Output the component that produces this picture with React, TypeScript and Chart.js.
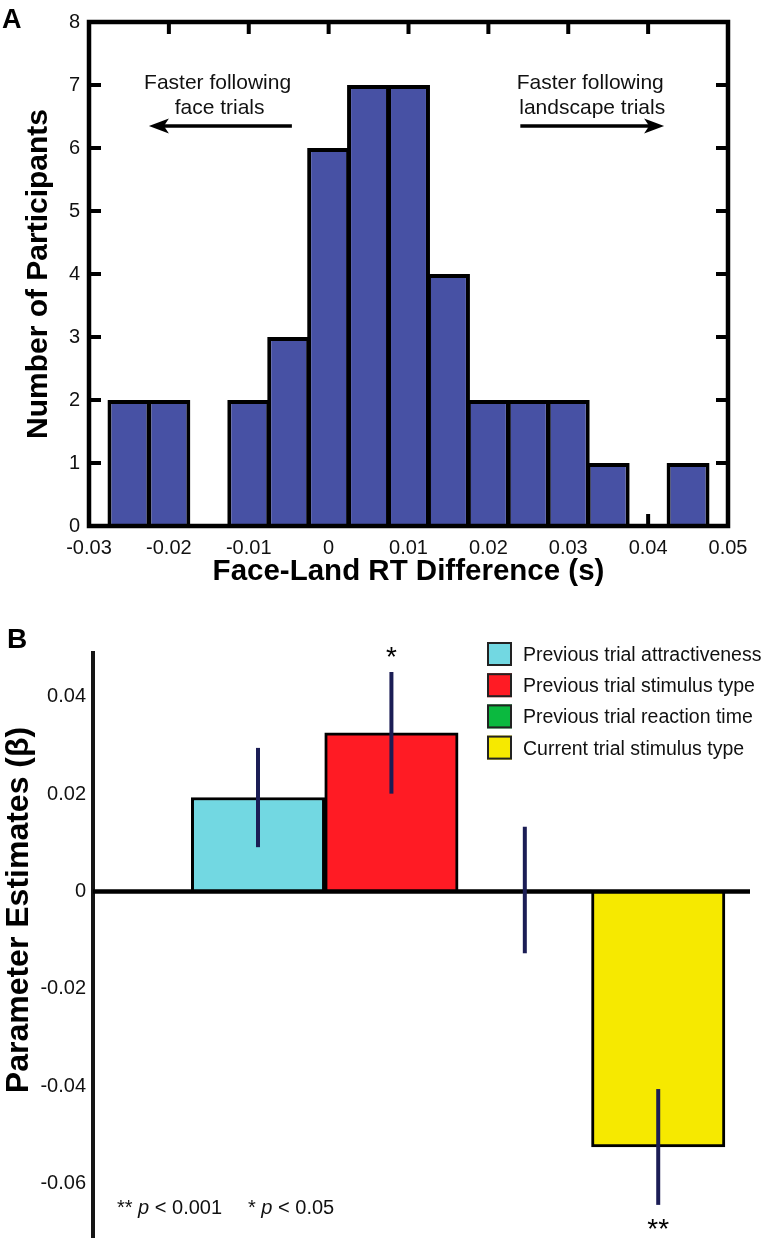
import React, { useEffect, useRef } from 'react';
import { Chart, registerables } from 'chart.js';

Chart.register(...registerables);

const FONT = '"Liberation Sans", Arial, Helvetica, sans-serif';

// ---------- Panel A: histogram of RT differences ----------
const binCenters = [-0.025, -0.02, -0.015, -0.01, -0.005, 0, 0.005, 0.01, 0.015, 0.02, 0.025, 0.03, 0.035, 0.04, 0.045];
const participantCounts = [2, 2, 0, 2, 3, 6, 7, 7, 4, 2, 2, 2, 1, 0, 1];
const xTickValuesA = [-0.03, -0.02, -0.01, 0, 0.01, 0.02, 0.03, 0.04, 0.05];
const xTickLabelsA = ['-0.03', '-0.02', '-0.01', '0', '0.01', '0.02', '0.03', '0.04', '0.05'];
const yTickValuesA = [0, 1, 2, 3, 4, 5, 6, 7, 8];
const yTickLabelsA = ['0', '1', '2', '3', '4', '5', '6', '7', '8'];
const noteLeftA = ['Faster following', 'face trials'];
const noteRightA = ['Faster following', 'landscape trials'];

// ---------- Panel B: parameter estimates ----------
const predictors = [
  'Previous trial attractiveness',
  'Previous trial stimulus type',
  'Previous trial reaction time',
  'Current trial stimulus type',
];
const estimates = [0.0193, 0.0326, 0.0003, -0.0525];
const standardErrors = [0.0102, 0.0125, 0.013, 0.0119];
const significance = ['', '*', '', '**'];
const predictorColors = ['#72D8E2', '#FF1B24', '#0BB93F', '#F6E900'];
const yTickValuesB = [-0.06, -0.04, -0.02, 0, 0.02, 0.04];
const yTickLabelsB = ['-0.06', '-0.04', '-0.02', '0', '0.02', '0.04'];
const footnoteParts = [
  ['** ', 'p', ' < 0.001'],
  ['* ', 'p', ' < 0.05'],
];

function drawArrow(ctx: CanvasRenderingContext2D, x1: number, x2: number, y: number) {
  const dir = Math.sign(x2 - x1);
  const head = 20;
  const hw = 7.5;
  ctx.beginPath();
  ctx.lineWidth = 3.5;
  ctx.moveTo(x1, y);
  ctx.lineTo(x2 - dir * head * 0.7, y);
  ctx.stroke();
  ctx.beginPath();
  ctx.moveTo(x2, y);
  ctx.lineTo(x2 - dir * head, y - hw);
  ctx.lineTo(x2 - dir * head * 0.75, y);
  ctx.lineTo(x2 - dir * head, y + hw);
  ctx.closePath();
  ctx.fill();
}

const panelAPlugin = {
  id: 'panelA',
  beforeDatasetsDraw(chart: any) {
    const { ctx, chartArea: a } = chart;
    const x = chart.scales.x;
    const y = chart.scales.y;
    const L = 12;
    ctx.save();
    ctx.strokeStyle = '#000';
    ctx.lineWidth = 4;
    ctx.beginPath();
    xTickValuesA.forEach((v) => {
      const px = x.getPixelForValue(v);
      if (px < a.left + 2 || px > a.right - 2) return;
      ctx.moveTo(px, a.bottom);
      ctx.lineTo(px, a.bottom - L);
      ctx.moveTo(px, a.top);
      ctx.lineTo(px, a.top + L);
    });
    yTickValuesA.forEach((v) => {
      const py = y.getPixelForValue(v);
      if (py < a.top + 2 || py > a.bottom - 2) return;
      ctx.moveTo(a.left, py);
      ctx.lineTo(a.left + L, py);
      ctx.moveTo(a.right, py);
      ctx.lineTo(a.right - L, py);
    });
    ctx.stroke();
    ctx.restore();
  },
  afterDatasetsDraw(chart: any) {
    const { ctx, chartArea: a } = chart;
    const x = chart.scales.x;
    const y = chart.scales.y;
    ctx.save();
    // frame
    ctx.strokeStyle = '#000';
    ctx.lineWidth = 4.5;
    ctx.strokeRect(a.left, a.top, a.right - a.left, a.bottom - a.top);

    // annotations
    ctx.fillStyle = '#111';
    ctx.strokeStyle = '#111';
    ctx.font = `21px ${FONT}`;
    ctx.textAlign = 'center';
    ctx.textBaseline = 'alphabetic';
    const base1 = y.getPixelForValue(7) + 4;
    const base2 = base1 + 25;
    const arrowY = y.getPixelForValue(6.35);
    const lx = x.getPixelForValue(-0.0139);
    ctx.fillText(noteLeftA[0], lx, base1);
    ctx.fillText(noteLeftA[1], lx + 2, base2);
    const rx = x.getPixelForValue(0.03275);
    ctx.fillText(noteRightA[0], rx, base1);
    ctx.fillText(noteRightA[1], rx + 2, base2);
    ctx.fillStyle = '#000';
    ctx.strokeStyle = '#000';
    drawArrow(ctx, x.getPixelForValue(-0.0046), x.getPixelForValue(-0.0225), arrowY);
    drawArrow(ctx, x.getPixelForValue(0.024), x.getPixelForValue(0.042), arrowY);

    // panel letter
    ctx.fillStyle = '#000';
    ctx.font = `bold 27px ${FONT}`;
    ctx.textAlign = 'left';
    ctx.fillText('A', 2, 28);
    ctx.restore();
  },
};

const panelBPlugin = {
  id: 'panelB',
  afterDatasetsDraw(chart: any) {
    const { ctx, chartArea: a } = chart;
    const x = chart.scales.x;
    const y = chart.scales.y;
    ctx.save();
    // zero line
    const y0 = y.getPixelForValue(0);
    ctx.strokeStyle = '#000';
    ctx.lineWidth = 4.5;
    ctx.beginPath();
    ctx.moveTo(a.left, y0);
    ctx.lineTo(a.right, y0);
    ctx.stroke();

    // error bars and significance marks
    estimates.forEach((v, i) => {
      const px = x.getPixelForValue(i);
      const top = y.getPixelForValue(v + standardErrors[i]);
      const bot = y.getPixelForValue(v - standardErrors[i]);
      ctx.strokeStyle = '#1b1d55';
      ctx.lineWidth = 4;
      ctx.beginPath();
      ctx.moveTo(px, top);
      ctx.lineTo(px, bot);
      ctx.stroke();
      if (significance[i]) {
        ctx.fillStyle = '#000';
        ctx.font = `28px ${FONT}`;
        ctx.textAlign = 'center';
        ctx.textBaseline = 'alphabetic';
        if (v >= 0) ctx.fillText(significance[i], px, top - 6);
        else ctx.fillText(significance[i], px, bot + 33);
      }
    });

    // legend
    const lgX = a.right - 263;
    const lgY = a.top + 1;
    predictors.forEach((label, i) => {
      const cy = lgY + i * 31.2;
      ctx.fillStyle = predictorColors[i];
      ctx.fillRect(lgX, cy - 12, 25, 24);
      ctx.strokeStyle = '#222';
      ctx.lineWidth = 2;
      ctx.strokeRect(lgX + 1, cy - 11, 23, 22);
      ctx.fillStyle = '#111';
      ctx.font = `19.5px ${FONT}`;
      ctx.textAlign = 'left';
      ctx.textBaseline = 'alphabetic';
      ctx.fillText(label, lgX + 36, cy + 7);
    });

    // footnote
    const fy = a.bottom - 23;
    const starts = [117, 248];
    footnoteParts.forEach((parts, g) => {
      let fx = starts[g];
      parts.forEach((t, k) => {
        ctx.font = k === 1 ? `italic 20px ${FONT}` : `20px ${FONT}`;
        ctx.fillStyle = '#111';
        ctx.textAlign = 'left';
        ctx.fillText(t, fx, fy);
        fx += ctx.measureText(t).width;
      });
    });

    // y title
    ctx.save();
    ctx.translate(28, 310);
    ctx.rotate(-Math.PI / 2);
    ctx.fillStyle = '#000';
    ctx.font = `bold 32px ${FONT}`;
    ctx.textAlign = 'center';
    ctx.textBaseline = 'alphabetic';
    ctx.fillText('Parameter Estimates (β)', 0, 0);
    ctx.restore();

    // panel letter
    ctx.fillStyle = '#000';
    ctx.font = `bold 28px ${FONT}`;
    ctx.textAlign = 'left';
    ctx.textBaseline = 'alphabetic';
    ctx.fillText('B', 7, 48);
    ctx.restore();
  },
};

export default function App() {
  const refA = useRef<HTMLCanvasElement>(null);
  const refB = useRef<HTMLCanvasElement>(null);

  useEffect(() => {
    const chartA = new Chart(refA.current as HTMLCanvasElement, {
      type: 'bar',
      data: {
        datasets: [
          {
            data: binCenters.map((c, i) => ({ x: c, y: participantCounts[i] })),
            backgroundColor: '#4751A4',
            borderColor: '#000',
            borderWidth: 4,
            barPercentage: 1.075,
            categoryPercentage: 1,
          } as any,
        ],
      },
      options: {
        responsive: false,
        animation: false,
        devicePixelRatio: 1,
        layout: { padding: { left: 0, top: 22, right: 38, bottom: 0 } },
        plugins: { legend: { display: false }, tooltip: { enabled: false } },
        scales: {
          x: {
            type: 'linear',
            min: -0.03,
            max: 0.05,
            offset: false,
            grid: { display: false, drawTicks: false },
            border: { display: false },
            afterBuildTicks: (s: any) => {
              s.ticks = xTickValuesA.map((v) => ({ value: v }));
            },
            afterFit: (s: any) => {
              s.height = 74;
            },
            ticks: {
              callback: (_v: any, i: number) => xTickLabelsA[i],
              font: { family: FONT, size: 20 },
              color: '#111',
              padding: 10,
              maxRotation: 0,
              autoSkip: false,
            },
            title: {
              display: true,
              text: 'Face-Land RT Difference (s)',
              font: { family: FONT, size: 29.5, weight: 'bold' },
              color: '#000',
              padding: { top: 0, bottom: 10 },
            },
          },
          y: {
            type: 'linear',
            min: 0,
            max: 8,
            grid: { display: false, drawTicks: false },
            border: { display: false },
            afterBuildTicks: (s: any) => {
              s.ticks = yTickValuesA.map((v) => ({ value: v }));
            },
            afterFit: (s: any) => {
              s.width = 89;
            },
            ticks: {
              callback: (_v: any, i: number) => yTickLabelsA[i],
              font: { family: FONT, size: 20 },
              color: '#111',
              padding: 9,
            },
            title: {
              display: true,
              text: 'Number of Participants',
              font: { family: FONT, size: 30, weight: 'bold' },
              color: '#000',
              padding: { top: 21, bottom: 0 },
            },
          },
        },
      } as any,
      plugins: [panelAPlugin],
    });

    const chartB = new Chart(refB.current as HTMLCanvasElement, {
      type: 'bar',
      data: {
        labels: predictors,
        datasets: [
          {
            data: estimates.map((v, i) => ({ x: i, y: v })),
            backgroundColor: predictorColors,
            borderColor: '#000',
            borderWidth: 3,
            barPercentage: 1,
            categoryPercentage: 1,
          } as any,
        ],
      },
      options: {
        responsive: false,
        animation: false,
        devicePixelRatio: 1,
        layout: { padding: { left: 0, top: 53, right: 16, bottom: 11 } },
        plugins: { legend: { display: false }, tooltip: { enabled: false } },
        scales: {
          x: {
            type: 'linear',
            min: -1.237,
            max: 3.688,
            offset: false,
            grid: { display: false, drawTicks: false },
            border: { display: false },
            ticks: { display: false },
            afterBuildTicks: (s: any) => {
              s.ticks = predictors.map((_p, i) => ({ value: i }));
            },
            afterFit: (s: any) => {
              s.height = 0;
            },
          },
          y: {
            type: 'linear',
            min: -0.071,
            max: 0.049,
            grid: { display: false, drawTicks: false },
            border: { display: true, width: 4, color: '#151515' },
            afterBuildTicks: (s: any) => {
              s.ticks = yTickValuesB.map((v) => ({ value: v }));
            },
            afterFit: (s: any) => {
              s.width = 93;
              s.paddingTop = 0;
              s.paddingBottom = 0;
            },
            ticks: {
              callback: (_v: any, i: number) => yTickLabelsB[i],
              font: { family: FONT, size: 20 },
              color: '#111',
              padding: 7,
            },
          },
        },
      } as any,
      plugins: [panelBPlugin],
    });

    return () => {
      chartA.destroy();
      chartB.destroy();
    };
  }, []);

  return (
    <div style={{ position: 'absolute', left: 0, top: 0, width: 766, height: 1248, background: '#fff' }}>
      <canvas
        ref={refA}
        width={766}
        height={600}
        style={{ position: 'absolute', left: 0, top: 0, width: 766, height: 600 }}
      />
      <canvas
        ref={refB}
        width={766}
        height={648}
        style={{ position: 'absolute', left: 0, top: 600, width: 766, height: 648 }}
      />
    </div>
  );
}
